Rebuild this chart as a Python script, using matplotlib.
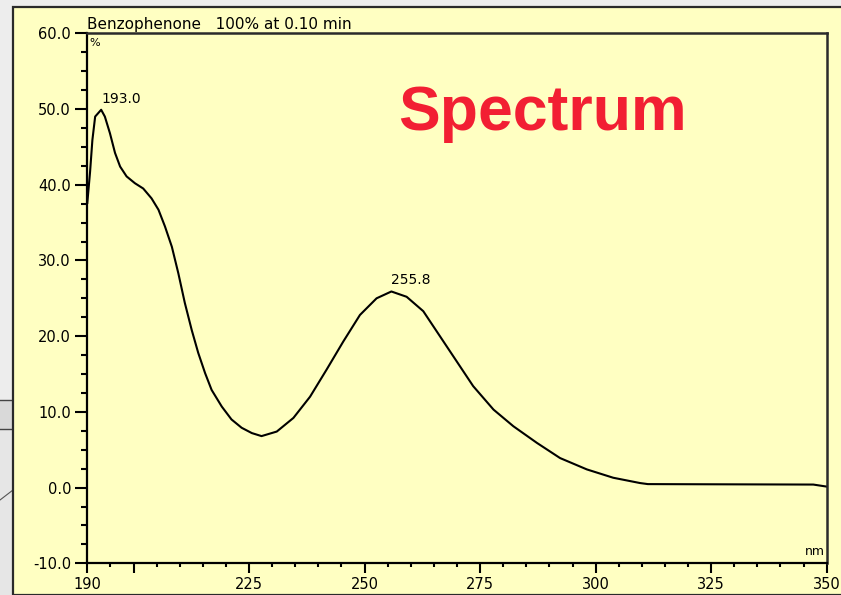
import numpy as np
import matplotlib
matplotlib.use("Agg")
from matplotlib import pyplot as plt
from matplotlib.patches import Rectangle
from matplotlib.lines import Line2D

# UV spectrum of benzophenone, wavelength in nm, response in %
wavelength = [190.0, 190.6, 191.1, 191.7, 193.0, 193.8, 194.9, 196.0, 197.1, 198.5,
              200.3, 202.1, 203.9, 205.4, 206.8, 208.3, 209.7, 211.1, 212.6, 214.0,
              215.5, 216.9, 219.1, 221.2, 223.4, 225.6, 227.7, 231.0, 234.6, 238.2,
              241.8, 245.4, 249.0, 252.6, 255.8, 259.1, 262.7, 266.3, 269.9, 273.5,
              277.9, 282.2, 287.3, 292.3, 298.1, 303.8, 309.6, 311.3, 322.6, 347.1,
              348.6, 350.0]
response = [37.6, 41.7, 45.9, 49.0, 49.9, 49.0, 46.8, 44.2, 42.4, 41.1,
            40.2, 39.5, 38.2, 36.7, 34.5, 31.8, 28.3, 24.4, 20.8, 17.8,
            15.1, 12.9, 10.7, 9.0, 7.9, 7.2, 6.8, 7.4, 9.2, 12.0,
            15.6, 19.3, 22.8, 25.0, 25.9, 25.2, 23.3, 20.0, 16.7, 13.4,
            10.3, 8.1, 5.9, 3.9, 2.4, 1.3, 0.6, 0.46, 0.44, 0.40,
            0.26, 0.13]

peak_nm = [193.0, 255.8]

x_major = [190, 200, 225, 250, 275, 300, 325, 350]
x_labels = ["190", "", "225", "250", "275", "300", "325", "350"]
y_major = [-10, 0, 10, 20, 30, 40, 50, 60]

title_text = "Benzophenone   100% at 0.10 min"
banner_text = "Spectrum"

W, H = 841, 595
yellow = "#FFFFC2"

plt.rcParams.update({
    "font.family": "DejaVu Sans",
    "xtick.labelsize": 10.5,
    "ytick.labelsize": 10.5,
})

fig = plt.figure(figsize=(W / 100, H / 100), dpi=100, facecolor="#EDEDED")


def fx(px):
    return px / W


def fy(py):
    return 1 - py / H


# window chrome to the left of the panel
fig.patches.append(Rectangle((0, fy(H)), fx(13), fy(400) - fy(H), transform=fig.transFigure,
                             facecolor="#E6E6E6", edgecolor="none", zorder=-3))
fig.patches.append(Rectangle((0, fy(429)), fx(13), fy(400) - fy(429), transform=fig.transFigure,
                             facecolor="#D9D9D9", edgecolor="none", zorder=-3))
for yy in (400, 429):
    fig.lines.append(Line2D([0, fx(13)], [fy(yy), fy(yy)], transform=fig.transFigure,
                            color="#444444", lw=1.0, zorder=-2))
fig.lines.append(Line2D([0, fx(13)], [fy(500), fy(490)], transform=fig.transFigure,
                        color="#555555", lw=0.8, zorder=-2))

# yellow plot panel
fig.patches.append(Rectangle((fx(13), 0), fx(W - 13) + 0.01, fy(7), transform=fig.transFigure,
                             facecolor=yellow, edgecolor="#2A2A2A", lw=1.6, zorder=-1))

ax = fig.add_axes([fx(87.3), fy(563.3), fx(826.7 - 87.3), fy(33.3) - fy(563.3)])
ax.set_facecolor(yellow)
ax.plot(wavelength, response, color="black", lw=1.5, solid_joinstyle="round")

ax.set_xlim(190, 350)
ax.set_ylim(-10, 60)

ax.set_xticks(x_major)
ax.set_xticklabels(x_labels)
ax.set_xticks(np.arange(190, 351, 5), minor=True)
ax.set_yticks(y_major)
ax.set_yticklabels([f"{v:.1f}" for v in y_major])
ax.set_yticks(np.arange(-10, 60.1, 2.5), minor=True)

ax.tick_params(axis="x", which="major", direction="out", length=7.2, width=1.5, pad=3)
ax.tick_params(axis="x", which="minor", direction="out", length=3, width=1.5)
ax.tick_params(axis="y", which="major", direction="out", length=8.7, width=1.5, pad=3)
ax.tick_params(axis="y", which="minor", direction="out", length=4, width=1.5)

for side in ("left", "bottom"):
    ax.spines[side].set_linewidth(1.6)
    ax.spines[side].set_color("black")
for side in ("top", "right"):
    ax.spines[side].set_linewidth(1.8)
    ax.spines[side].set_color("#2A2A2A")

# peak wavelength labels
for p in peak_nm:
    v = response[wavelength.index(p)]
    ax.annotate(f"{p:.1f}", xy=(p, v), xytext=(0, 3), textcoords="offset points",
                ha="left", va="bottom", fontsize=10)

ax.text(0.003, 0.992, "%", transform=ax.transAxes, ha="left", va="top", fontsize=8)
ax.text(0.997, 0.01, "nm", transform=ax.transAxes, ha="right", va="bottom", fontsize=9)

fig.text(fx(87), fy(29), title_text, ha="left", va="baseline", fontsize=11)
fig.text(fx(398), fy(130), banner_text, ha="left", va="baseline", fontsize=45,
         fontweight="bold", family="Liberation Sans", color="#F21F33")

fig.savefig("out.png", dpi=100, facecolor=fig.get_facecolor())
